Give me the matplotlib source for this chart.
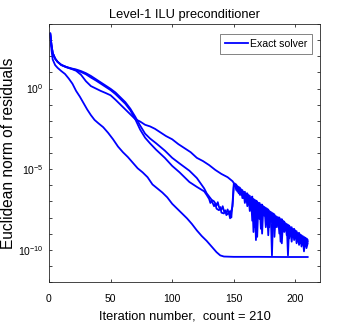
import matplotlib
matplotlib.use('Agg')
import matplotlib.pyplot as plt
import numpy as np
from matplotlib.ticker import FixedLocator, FuncFormatter, NullFormatter

# residual history, stored as log10 of the residual norm
fast_it = [1, 2, 3, 5, 7, 10, 13, 16, 19, 22, 25, 28, 31, 34, 37, 40, 44, 48, 52, 56,
           60, 64, 68, 72, 76, 80, 84, 88, 92, 96, 100, 104, 108, 112, 116, 120, 124,
           128, 132, 136, 139, 142, 150, 170, 190, 210]
fast_log = [3.4, 2.4, 1.8, 1.45, 1.28, 1.08, 0.9, 0.62, 0.3, -0.15, -0.5, -0.9, -1.3,
            -1.65, -1.95, -2.15, -2.4, -2.75, -3.15, -3.6, -3.95, -4.25, -4.6, -4.95,
            -5.2, -5.5, -5.95, -6.2, -6.45, -6.75, -7.15, -7.45, -7.75, -8.05, -8.4,
            -8.8, -9.15, -9.45, -9.8, -10.15, -10.35, -10.42, -10.44, -10.44, -10.45, -10.45]

a_it = [1, 2, 3, 5, 7, 10, 14, 18, 22, 26, 30, 34, 38, 42, 46, 50, 54, 58, 62, 66, 70,
        74, 78, 82, 86, 90, 95, 100, 105, 110, 115, 120, 125, 130, 135, 140, 145, 149,
        150, 151, 152, 153, 154, 155, 156, 157, 158, 159, 160, 161, 162, 163, 164, 165,
        166, 167, 168, 169, 170, 171, 172, 173, 174, 175, 176, 177, 178, 179, 180, 181,
        182, 183, 184, 185, 186, 187, 188, 189, 190, 191, 192, 193, 194, 195, 196, 197,
        198, 199, 200, 201, 202, 203, 204, 205, 206, 207, 208, 209, 210]
a_log = [3.4, 2.7, 2.2, 1.85, 1.65, 1.45, 1.32, 1.22, 1.1, 0.85, 0.45, 0.15, 0.0, -0.15,
         -0.28, -0.42, -0.7, -1.0, -1.3, -1.6, -1.9, -2.05, -2.25, -2.35, -2.5, -2.7,
         -2.95, -3.15, -3.45, -3.7, -3.95, -4.3, -4.5, -4.75, -5.05, -5.3, -5.5, -5.75,
         -5.86, -6.05, -5.95, -6.2, -6.1, -6.35, -6.25, -6.5, -6.4, -6.7, -6.5, -6.8,
         -6.6, -7.0, -6.75, -7.6, -6.85, -8.6, -6.95, -7.2, -7.1, -7.5, -7.2, -7.6,
         -7.35, -7.7, -7.45, -8.3, -7.55, -7.9, -7.7, -10.35, -7.8, -8.1, -7.95, -8.3,
         -8.0, -9.0, -8.15, -8.5, -8.3, -8.6, -8.4, -8.8, -8.5, -8.9, -8.65, -9.1,
         -8.75, -9.2, -8.9, -9.3, -9.0, -9.4, -9.1, -9.5, -9.25, -10.1, -9.35, -9.6, -9.5]

b_it = [1, 2, 3, 5, 7, 10, 14, 18, 22, 26, 30, 34, 38, 42, 46, 50, 54, 58, 62, 66, 70,
        74, 78, 82, 87, 94, 100, 106, 114, 120, 126, 128, 130, 132, 134, 136, 137, 138,
        140, 141, 142, 144, 145, 146, 147, 148, 149,
        150, 151, 152, 153, 154, 155, 156, 157, 158, 159, 160, 161, 162, 163, 164, 165,
        166, 167, 168, 169, 170, 171, 172, 173, 174, 175, 176, 177, 178, 179, 180, 181,
        182, 183, 184, 185, 186, 187, 188, 189, 190, 191, 192, 193, 194, 195, 196, 197,
        198, 199, 200, 201, 202, 203, 204, 205, 206, 207, 208, 209, 210]
b_log = [3.4, 2.7, 2.2, 1.85, 1.65, 1.47, 1.34, 1.25, 1.18, 1.08, 0.95, 0.78, 0.58, 0.38,
         0.18, -0.02, -0.25, -0.55, -0.85, -1.25, -1.75, -2.3, -2.8, -3.1, -3.4, -3.85,
         -4.3, -4.65, -5.1, -5.55, -6.2, -6.5, -6.7, -6.9, -7.0, -7.25, -7.05, -7.35,
         -7.5, -7.3, -7.6, -7.7, -7.5, -7.75, -7.6, -8.0, -7.1,
         -5.9, -5.9, -6.3, -6.05, -6.5, -6.15, -6.6, -6.3, -6.8, -6.4, -6.9, -6.5, -7.1,
         -6.65, -7.3, -6.7, -8.9, -6.9, -9.4, -7.0, -8.0, -7.1, -8.7, -7.2, -7.7, -7.35,
         -8.6, -7.45, -9.1, -7.6, -8.2, -7.7, -8.4, -7.8, -8.6, -7.95, -8.5, -8.0, -9.5,
         -8.1, -8.7, -8.25, -8.8, -8.4, -10.35, -8.5, -9.0, -8.6, -9.2, -8.7, -9.3, -8.85,
         -9.5, -8.95, -9.6, -9.1, -9.7, -9.2, -9.8, -9.3, -9.4]

c_it = [1, 2, 3, 5, 7, 10, 14, 18, 22, 26, 30, 34, 38, 42, 46, 50, 54, 58, 62, 66, 70,
        74, 78, 82, 87, 94, 100, 106, 114, 120, 126, 128, 130, 131, 132, 134, 135, 136,
        138, 139, 140, 142, 143, 144, 146, 147, 148, 149,
        150, 151, 152, 153, 154, 155, 156, 157, 158, 159, 160, 161, 162, 163, 164, 165,
        166, 167, 168, 169, 170, 171, 172, 173, 174, 175, 176, 177, 178, 179, 180, 181,
        182, 183, 184, 185, 186, 187, 188, 189, 190, 191, 192, 193, 194, 195, 196, 197,
        198, 199, 200, 201, 202, 203, 204, 205, 206, 207, 208, 209, 210]
c_log = [3.4, 2.7, 2.2, 1.85, 1.65, 1.46, 1.33, 1.23, 1.15, 1.02, 0.88, 0.68, 0.5, 0.3,
         0.1, -0.1, -0.35, -0.65, -0.95, -1.35, -1.9, -2.55, -3.05, -3.4, -3.8, -4.3,
         -4.8, -5.2, -5.8, -6.1, -6.38, -6.6, -6.85, -7.1, -6.95, -7.3, -7.15, -7.45,
         -7.55, -7.35, -7.7, -7.75, -7.55, -7.85, -7.7, -8.05, -7.6, -7.3,
         -6.1, -5.95, -6.15, -6.4, -6.2, -6.6, -6.3, -6.8, -6.45, -7.1, -6.6, -7.3, -6.7,
         -7.6, -6.8, -8.2, -6.9, -7.4, -7.0, -9.2, -7.1, -8.1, -7.2, -9.0, -7.3, -7.9,
         -7.4, -8.0, -7.5, -8.6, -7.65, -8.3, -7.75, -9.2, -7.9, -8.6, -8.0, -8.7, -8.1,
         -9.6, -8.2, -8.9, -8.35, -9.1, -8.45, -9.3, -8.6, -9.5, -8.7, -9.4, -8.8, -9.6,
         -8.95, -9.7, -9.05, -9.8, -9.15, -9.5, -9.25, -9.9, -9.6]

x_ticks = [0, 50, 100, 150, 200]
y_major = [1e-10, 1e-5, 1e0]
y_minor = [10.0 ** k for k in range(-12, 5)]

plt.rcParams['font.family'] = ['Liberation Sans', 'DejaVu Sans']
plt.rcParams['mathtext.fontset'] = 'custom'
plt.rcParams['mathtext.rm'] = 'Liberation Sans'
plt.rcParams['mathtext.it'] = 'Liberation Sans'
plt.rcParams['axes.unicode_minus'] = False

fig = plt.figure(figsize=(3.54, 3.27), dpi=100)
ax = fig.add_axes([49 / 354, 45 / 327, 271 / 354, 258 / 327])

blue = '#0000FF'
lw = 1.3
ax.semilogy(fast_it, 10.0 ** np.array(fast_log), color=blue, lw=lw, label='Exact solver')
ax.semilogy(a_it, 10.0 ** np.array(a_log), color=blue, lw=lw)
ax.semilogy(b_it, 10.0 ** np.array(b_log), color=blue, lw=lw)
ax.semilogy(c_it, 10.0 ** np.array(c_log), color=blue, lw=lw)

ax.set_xlim(0, 220)
ax.set_ylim(1e-12, 1e4)
ax.xaxis.set_major_locator(FixedLocator(x_ticks))
ax.yaxis.set_major_locator(FixedLocator(y_major))
ax.yaxis.set_minor_locator(FixedLocator(y_minor))
ax.yaxis.set_minor_formatter(NullFormatter())
ax.yaxis.set_major_formatter(FuncFormatter(
    lambda v, p: r'$\mathregular{10^{%d}}$' % int(round(np.log10(v)))))

ax.tick_params(which='both', direction='in', top=True, right=True,
               length=2.5, width=0.6, color='#262626', labelsize=7.5)
ax.tick_params(axis='x', pad=8.5)
ax.tick_params(axis='y', pad=4)
for s in ax.spines.values():
    s.set_color('#262626')
    s.set_linewidth(0.6)

ax.set_title('Level-1 ILU preconditioner', fontsize=9.3, pad=4)
ax.set_xlabel('Iteration number,  count = 210', fontsize=9.3, labelpad=5)
ax.set_ylabel('Euclidean norm of residuals', fontsize=11.2, labelpad=1)

leg = ax.legend(loc='upper right', bbox_to_anchor=((312 - 49) / 271, (282 - 34) / 258),
                borderaxespad=0, fontsize=7.6, handlelength=2.2, fancybox=False,
                frameon=True, borderpad=0.45, handletextpad=0.2)
leg.get_frame().set_edgecolor('#262626')
leg.get_frame().set_linewidth(0.5)

fig.savefig('out.png', dpi=100)
